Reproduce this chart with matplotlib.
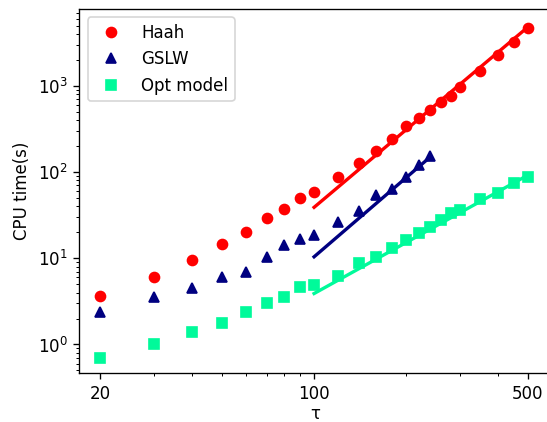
import matplotlib
matplotlib.use("Agg")
import matplotlib.pyplot as plt
from matplotlib.ticker import NullFormatter

tau = [20, 30, 40, 50, 60, 70, 80, 90, 100, 120, 140, 160, 180, 200,
       220, 240, 260, 280, 300, 350, 400, 450, 500]

haah = [3.65, 6.12, 9.55, 14.7, 20.4, 29.4, 37.0, 49.7, 59.3, 87, 126, 177,
        240, 345, 421, 525, 645, 764, 963, 1500, 2280, 3210, 4660]

tau_gslw = [20, 30, 40, 50, 60, 70, 80, 90, 100, 120, 140, 160, 180, 200, 220, 240]
gslw = [2.40, 3.59, 4.49, 6.02, 6.93, 10.3, 14.3, 16.7, 18.6, 26.6, 35.7,
        54.2, 64, 88.5, 121, 155]

opt = [0.703, 1.0, 1.41, 1.76, 2.36, 3.05, 3.56, 4.69, 4.90, 6.28, 8.75, 10.4,
       13.3, 16.3, 19.5, 23.3, 27.8, 33.3, 36.3, 48.3, 57.7, 74.1, 88.4]

# fitted trend lines (end points)
fit_tau = [100, 500]
haah_fit = [39, 4800]
fit_tau_gslw = [100, 240]
gslw_fit = [10.4, 150]
opt_fit = [3.9, 92]

c_haah = "red"
c_gslw = "navy"
c_opt = "mediumspringgreen"

fig = plt.figure(figsize=(547 / 120, 422 / 120), dpi=120)
ax = fig.add_axes([0.145, 0.1154, 0.862, 0.8633])

ax.plot(tau, haah, "o", color=c_haah, label="Haah")
ax.plot(tau_gslw, gslw, "^", color=c_gslw, label="GSLW")
ax.plot(tau, opt, "s", color=c_opt, label="Opt model")

ax.plot(fit_tau, haah_fit, "-", color=c_haah, lw=2)
ax.plot(fit_tau_gslw, gslw_fit, "-", color=c_gslw, lw=2)
ax.plot(fit_tau, opt_fit, "-", color=c_opt, lw=2)

ax.set_xscale("log")
ax.set_yscale("log")
ax.set_xlim(17.06, 595)
ax.set_ylim(0.463, 7800)
ax.set_xticks([20, 100, 500])
ax.set_xticklabels(["20", "100", "500"])
ax.xaxis.set_minor_formatter(NullFormatter())
ax.spines["right"].set_visible(False)  # cropped off in the original

ax.set_xlabel("τ", labelpad=1)
ax.set_ylabel("CPU time(s)")
ax.legend(loc="upper left")

fig.savefig("out.png", dpi=120)
